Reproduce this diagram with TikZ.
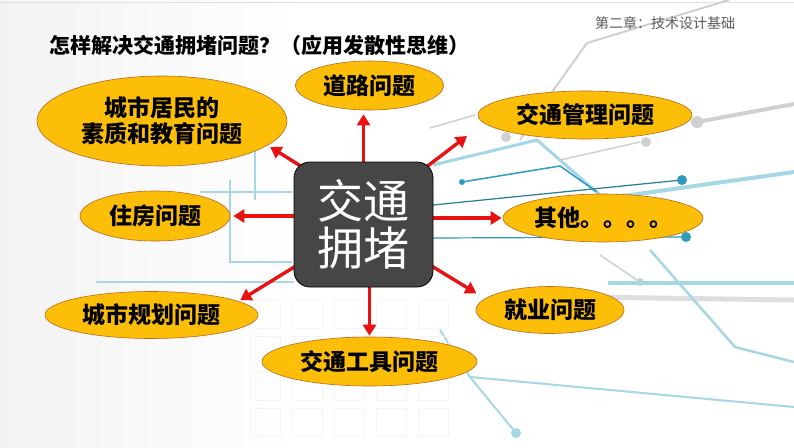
\documentclass[tikz,border=0pt]{standalone}
\usepackage{fontspec}
\setmainfont{Noto Sans CJK SC}
\usetikzlibrary{shapes.geometric,arrows.meta,calc}
\definecolor{gold}{RGB}{253,190,8}
\definecolor{goldedge}{RGB}{185,105,30}
\definecolor{boxgray}{RGB}{70,70,70}
\definecolor{arrred}{RGB}{232,18,18}
\definecolor{lblue}{RGB}{165,216,228}
\definecolor{circteal}{RGB}{45,155,190}
\definecolor{lgrey}{RGB}{208,208,208}
\definecolor{hdrgray}{RGB}{90,90,90}
\pgfdeclarelayer{bg}
\pgfdeclarelayer{arrlayer}
\pgfsetlayers{bg,arrlayer,main}
\begin{document}
\begin{tikzpicture}[x=1pt,y=-1pt,
  bubble/.style={ellipse, fill=gold, draw=goldedge, line width=0.6pt, inner sep=0pt,
    font=\fontsize{23}{26}\selectfont\bfseries, align=center},
  arr/.style={draw=arrred, line width=3.4pt, -{Triangle[length=11pt,width=13pt]}},
  deco/.style={line width=1.5pt},
  centerbox/.style={draw=black, line width=0.8pt, fill=boxgray, rounded corners=16pt,
    minimum width=139pt, minimum height=125pt, inner sep=0pt, text=white,
    font=\fontsize{46}{47}\selectfont, align=center}]
\useasboundingbox (0,0) rectangle (794,447);

\begin{pgfonlayer}{bg}
  \fill[white] (0,0) rectangle (794,447);
  \shade[left color=gray!10, right color=white] (0,0) rectangle (300,447);
  \draw[gray!25, line width=1pt] (0,2) -- (794,2);
  % grey circuit lines
  \draw[lgrey, line width=2pt] (729,0) -- (587,43) -- (552,92) -- (520,140);
  \draw[lgrey, line width=4pt] (697,122) -- (794,104);
  \fill[lgrey] (697,122) circle[radius=6pt];
  \draw[lgrey, deco] (430,128) -- (475,115);
  \draw[lgrey, deco] (560,160) -- (640,142);
  \fill[lgrey] (646,142) circle[radius=5pt];
  \fill[lgrey] (506,137) circle[radius=5pt];
  \draw[lgrey!70, line width=5pt] (582,297) -- (794,300);
  \draw[lgrey, deco] (600,255) -- (640,282);
  \fill[lgrey] (640,282) circle[radius=4pt];
  % blue circuit lines
  \draw[lblue, line width=3pt] (433,165) -- (537,140) -- (600,195);
  \draw[circteal, deco] (462,182) -- (560,166) -- (597,192);
  \fill[circteal] (462,182) circle[radius=3pt];
  \draw[circteal!80!black, line width=1.2pt] (433,205) -- (682,180);
  \fill[circteal] (682,180) circle[radius=5pt];
  \draw[lblue, line width=4pt] (560,205) -- (794,172);
  \draw[circteal, line width=1.2pt] (433,238) -- (686,237);
  \fill[circteal] (686,237) circle[radius=5pt];
  \draw[lblue, line width=3.5pt] (608,283) -- (794,283);
  \draw[lblue, line width=2.5pt] (650,250) -- (735,347) -- (794,362);
  \draw[lblue, line width=2pt] (440,330) -- (470,377) -- (794,407);
  \draw[lblue, line width=2pt] (470,377) -- (516,433);
  \fill[lblue] (516,433) circle[radius=5pt];
  \draw[lblue, deco] (96,282) -- (294,282);
  \draw[lblue, line width=1.2pt] (230,180) -- (230,262) -- (292,262);
  \draw[lblue, line width=1.2pt] (200,192) -- (292,192);
  \draw[lblue, line width=1.2pt] (255,150) -- (255,200);
  % faint grid of rectangles
  \foreach \i in {0,...,4} {
    \foreach \j in {0,...,3} {
      \draw[gray!8, line width=0.8pt] (250+\i*42,300+\j*36) rectangle ++(30,28);
    }
  }
\end{pgfonlayer}

% texts
\node[anchor=west, inner sep=0pt, font=\fontsize{21}{24}\selectfont\bfseries] (title) at (49,45)
  {怎样解决交通拥堵问题？（应用发散性思维）};
\node[anchor=west, inner sep=0pt, text=hdrgray, font=\fontsize{14}{16}\selectfont] (hdr) at (595,23)
  {第二章：技术设计基础};

% bubbles
\node[bubble, minimum width=148pt, minimum height=49pt] (road) at (369.5,85.5) {道路问题};
\node[bubble, minimum width=250pt, minimum height=90pt] (edu) at (162,121) {城市居民的\\素质和教育问题};
\node[bubble, minimum width=214pt, minimum height=48pt] (mgmt) at (585,115) {交通管理问题};
\node[bubble, minimum width=150pt, minimum height=50pt] (house) at (155,216) {住房问题};
\node[bubble, minimum width=200pt, minimum height=48pt] (other) at (603,218) {其他。。。。};
\node[bubble, minimum width=213pt, minimum height=47pt] (plan) at (151.5,315) {城市规划问题};
\node[bubble, minimum width=148pt, minimum height=47pt] (job) at (550,310) {就业问题};
\node[bubble, minimum width=215pt, minimum height=49pt] (tool) at (369.5,361.5) {交通工具问题};

% centre box
\node[centerbox] (box) at (363.5,224.5) {交通\\拥堵};
\coordinate (mtip) at (467,136);

% arrows (under the box)
\begin{pgfonlayer}{arrlayer}
  \draw[arr, shorten <=-4pt, shorten >=4pt] (box.north) -- (box.north |- road.south);
  \draw[arr, shorten <=-12pt, shorten >=3pt] (box.north west) -- (edu.-13);
  \draw[arr, shorten <=-12pt] (box.north east) -- (mtip);
  \draw[arr, shorten <=-4pt, shorten >=3pt] (box.west |- house.east) -- (house.east);
  \draw[arr, shorten <=-4pt, shorten >=1pt] (box.east |- other.west) -- (other.west);
  \draw[arr, shorten >=2pt] (box.center) -- (plan.9);
  \draw[arr, shorten >=10pt] (box.center) -- (job.170);
  \draw[arr, shorten <=-4pt, shorten >=1pt] (box.south -| tool.north) -- (tool.north);
\end{pgfonlayer}
\end{tikzpicture}
\end{document}
